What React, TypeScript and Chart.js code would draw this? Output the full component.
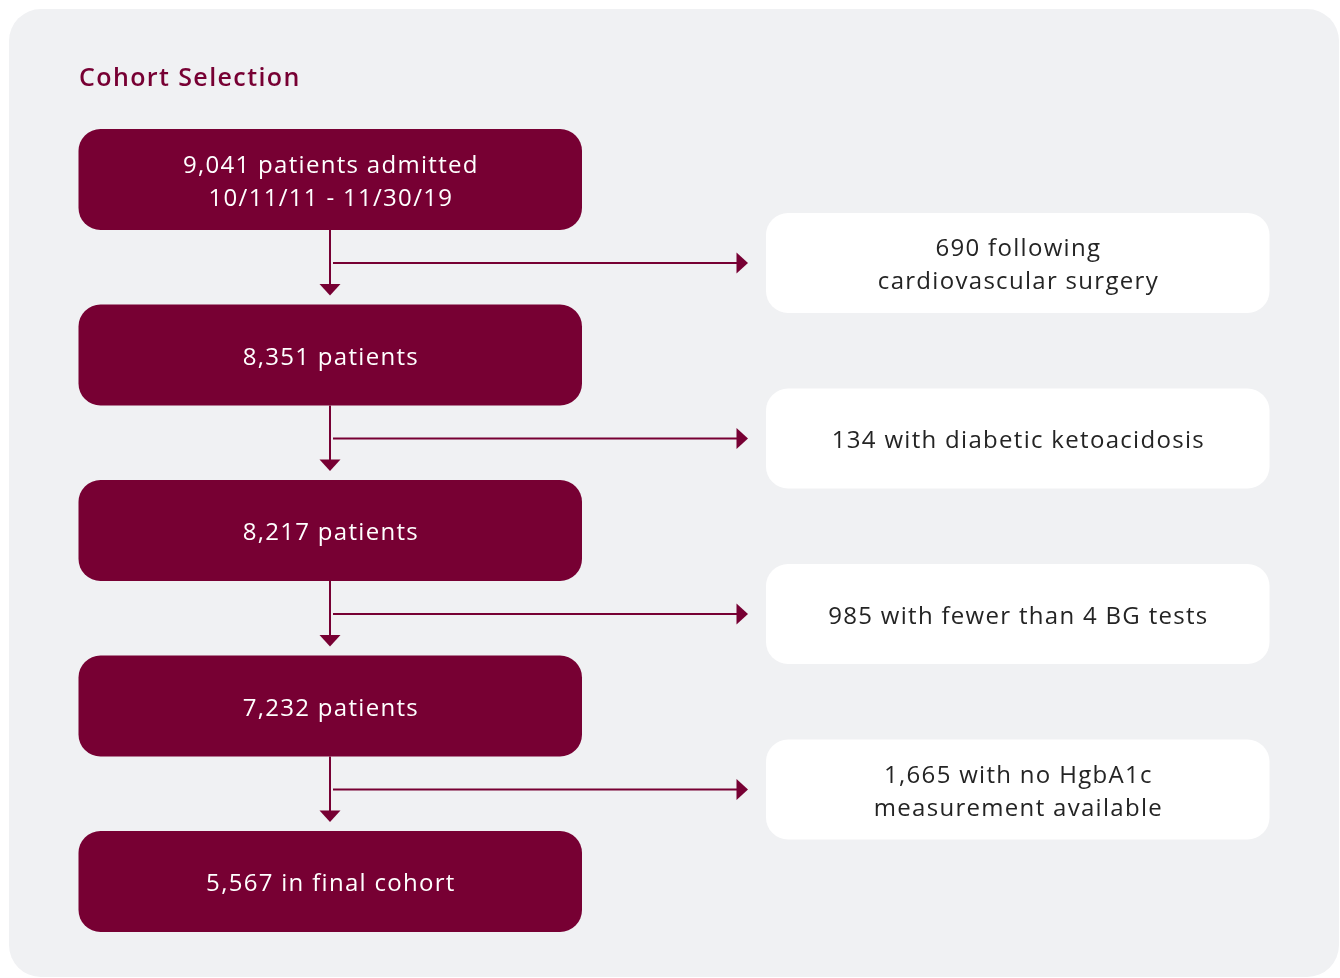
import React, { useEffect, useRef } from "react";
import { Chart, registerables } from "chart.js";

Chart.register(...registerables);

// ---- data ----
const chartTitle = "Cohort Selection";
const stageLabels: string[][] = [
  ["9,041 patients admitted", "10/11/11 - 11/30/19"],
  ["8,351 patients"],
  ["8,217 patients"],
  ["7,232 patients"],
  ["5,567 in final cohort"],
];
const exclusionLabels: string[][] = [
  ["690 following", "cardiovascular surgery"],
  ["134 with diabetic ketoacidosis"],
  ["985 with fewer than 4 BG tests"],
  ["1,665 with no HgbA1c", "measurement available"],
];

// ---- layout / style ----
const W = 1340;
const H = 978;
const MAROON = "#770033";
const PANEL = "#f0f1f3";
const TEXT_DARK = "#242424";
const FONT = "'Open Sans', 'Noto Sans', sans-serif";

const panel = { x0: 9, y0: 9, x1: 1339, y1: 977, r: 32 };
const stageCol = { x0: 78.5, x1: 582, top: 129, step: 175.5, h: 101, r: 22 };
const exclCol = { x0: 766, x1: 1269.5, offset: 84, h: 100, r: 22 };
const spineX = 330;
const lineH = 33;
const LS = 1.3;

const flowPlugin = {
  id: "flow",
  beforeDatasetsDraw(chart: any) {
    const ctx: CanvasRenderingContext2D = chart.ctx;
    const sx = chart.scales.x;
    const sy = chart.scales.y;
    const px = (v: number) => sx.getPixelForValue(v);
    const py = (v: number) => sy.getPixelForValue(v);

    const rrect = (x0: number, y0: number, x1: number, y1: number, r: number, fill: string) => {
      const a = px(x0), b = py(y0), c = px(x1), d = py(y1);
      ctx.beginPath();
      (ctx as any).roundRect(Math.min(a, c), Math.min(b, d), Math.abs(c - a), Math.abs(d - b), r);
      ctx.fillStyle = fill;
      ctx.fill();
    };
    const lines = (texts: string[], cx: number, cy: number, color: string) => {
      ctx.fillStyle = color;
      ctx.font = `400 24px ${FONT}`;
      (ctx as any).letterSpacing = `${LS}px`;
      ctx.textAlign = "center";
      ctx.textBaseline = "middle";
      const n = texts.length;
      texts.forEach((t, i) => {
        ctx.fillText(t, px(cx) + LS / 2, py(cy + (i - (n - 1) / 2) * lineH) + 3);
      });
      (ctx as any).letterSpacing = "0px";
    };

    ctx.save();
    // background panel
    rrect(panel.x0, panel.y0, panel.x1, panel.y1, panel.r, PANEL);

    // title
    ctx.fillStyle = MAROON;
    ctx.font = `600 25px ${FONT}`;
    (ctx as any).letterSpacing = "1.4px";
    ctx.textAlign = "left";
    ctx.textBaseline = "middle";
    ctx.fillText(chartTitle, px(79), py(79));
    (ctx as any).letterSpacing = "0px";

    // stage boxes
    stageLabels.forEach((lab, i) => {
      const top = stageCol.top + i * stageCol.step;
      rrect(stageCol.x0, top, stageCol.x1, top + stageCol.h, stageCol.r, MAROON);
      lines(lab, (stageCol.x0 + stageCol.x1) / 2, top + stageCol.h / 2, "#ffffff");
    });

    // exclusion boxes and arrows
    exclusionLabels.forEach((lab, i) => {
      const stTop = stageCol.top + i * stageCol.step;
      const stBottom = stTop + stageCol.h;
      const nextTop = stageCol.top + (i + 1) * stageCol.step;
      const top = stTop + exclCol.offset;
      const cy = top + exclCol.h / 2;
      rrect(exclCol.x0, top, exclCol.x1, top + exclCol.h, exclCol.r, "#ffffff");
      lines(lab, (exclCol.x0 + exclCol.x1) / 2, cy, TEXT_DARK);

      ctx.strokeStyle = MAROON;
      ctx.fillStyle = MAROON;
      ctx.lineWidth = 2;
      // vertical line
      const tipY = nextTop - 9;
      ctx.beginPath();
      ctx.moveTo(px(spineX), py(stBottom));
      ctx.lineTo(px(spineX), py(tipY - 8));
      ctx.stroke();
      ctx.beginPath();
      ctx.moveTo(px(spineX - 10.5), py(tipY - 11.5));
      ctx.lineTo(px(spineX + 10.5), py(tipY - 11.5));
      ctx.lineTo(px(spineX), py(tipY));
      ctx.closePath();
      ctx.fill();
      // horizontal line
      const tipX = exclCol.x0 - 18;
      ctx.beginPath();
      ctx.moveTo(px(spineX + 3), py(cy));
      ctx.lineTo(px(tipX - 8), py(cy));
      ctx.stroke();
      ctx.beginPath();
      ctx.moveTo(px(tipX - 11.5), py(cy - 10.5));
      ctx.lineTo(px(tipX - 11.5), py(cy + 10.5));
      ctx.lineTo(px(tipX), py(cy));
      ctx.closePath();
      ctx.fill();
    });
    ctx.restore();
  },
};

export default function App() {
  const ref = useRef<HTMLCanvasElement | null>(null);
  useEffect(() => {
    if (!ref.current) return;
    const chart = new Chart(ref.current, {
      type: "scatter",
      data: {
        datasets: [
          {
            label: "stages",
            data: stageLabels.map((_, i) => ({
              x: spineX,
              y: stageCol.top + i * stageCol.step + stageCol.h / 2,
            })),
            pointRadius: 0,
            pointHoverRadius: 0,
          },
        ],
      },
      options: {
        animation: false,
        responsive: false,
        maintainAspectRatio: false,
        layout: { padding: 0 },
        events: [],
        plugins: { legend: { display: false }, tooltip: { enabled: false }, title: { display: false } },
        scales: {
          x: { type: "linear", min: 0, max: W, display: false },
          y: { type: "linear", min: 0, max: H, reverse: true, display: false },
        },
      },
      plugins: [flowPlugin],
    });
    return () => chart.destroy();
  }, []);
  return (
    <div style={{ position: "fixed", left: 0, top: 0, width: W, height: H, background: "#ffffff" }}>
      <canvas ref={ref} width={W} height={H} style={{ width: W, height: H, display: "block" }} />
    </div>
  );
}
